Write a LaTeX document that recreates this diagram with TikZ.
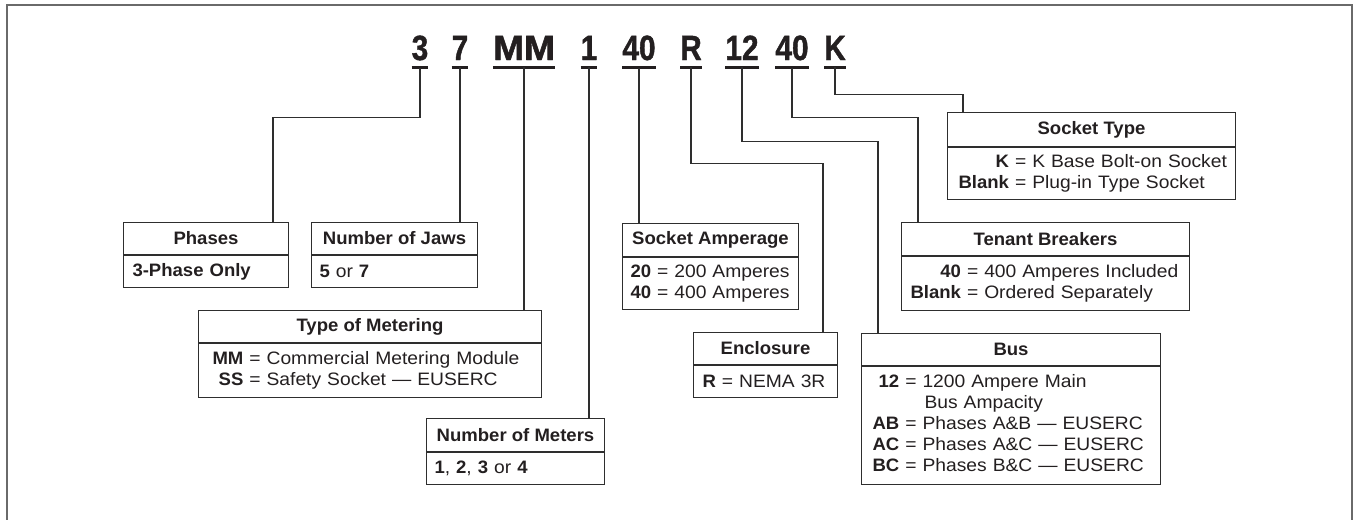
\documentclass[tikz,border=0pt]{standalone}
\usepackage{fontspec}
\setmainfont{Liberation Sans}[FakeStretch=1.07, BoldFeatures={FakeStretch=1.03}]
\newfontfamily\codefont{Liberation Sans}[FakeStretch=0.85,FakeBold=1.2]
\definecolor{ink}{HTML}{231F20}
\definecolor{boxc}{HTML}{2E2E2E}
\definecolor{framec}{HTML}{6A6A6A}
\newcommand\bodysize{\fontsize{18}{21}\selectfont}
\tikzset{
  code/.style={font=\codefont\bfseries\fontsize{35}{35}\selectfont, inner xsep=0pt, inner ysep=7pt, anchor=base, text=ink},
  uline/.style={line width=3pt, draw=ink},
  lead/.style={line width=1.1pt, draw=boxc},
  hdr/.style={draw=boxc, line width=1pt, font=\bodysize\bfseries, text=ink, inner sep=0pt, anchor=north west},
  bdy/.style={draw=boxc, line width=1pt, font=\bodysize, text=ink, inner ysep=0pt, align=left, anchor=north west},
}
\begin{document}
\begin{tikzpicture}[x=1pt,y=-1pt]
\useasboundingbox (0,0) rectangle (1356,519);
% frame
\draw[draw=framec, line width=2pt] (7,520) -- (7,5) -- (1352,5) -- (1352,520);
% code characters
\node[code] (c3)   at (420,60) {3};
\node[code] (c7)   at (460,60) {7};
\node[code] (cMM)  at (524,60) {\scalebox{1.25}[1]{MM}};
\node[code] (c1)   at (589,60) {1};
\node[code] (c40a) at (639,60) {40};
\node[code] (cR)   at (691,60) {R};
\node[code] (c12)  at (742,60) {12};
\node[code] (c40b) at (792,60) {40};
\node[code] (cK)   at (835,60) {K};
\foreach \n in {c3,c7,cMM,c1,c40a,cR,c12,c40b,cK}
  \draw[uline] (\n.south west) -- (\n.south east);
% boxes
\node[hdr, minimum width=165pt, minimum height=32pt] (phH) at (123,222) {Phases};
\node[bdy, minimum height=32pt, text width=147pt, inner xsep=9pt] (phB) at (phH.south west) {\textbf{3-Phase Only}};
\node[hdr, minimum width=166pt, minimum height=32pt] (jwH) at (311,222) {Number of Jaws};
\node[bdy, minimum height=32pt, text width=150pt, inner xsep=8pt] (jwB) at (jwH.south west) {\textbf{5} or \textbf{7}};
\node[hdr, minimum width=343pt, minimum height=32pt] (mtH) at (198,310) {Type of Metering};
\node[bdy, minimum height=54pt, text width=315pt, inner xsep=14pt] (mtB) at (mtH.south west)
  {\begin{tabular}{@{}r@{\ =\ }l@{}}\textbf{MM} & Commercial Metering Module\\ \textbf{SS} & Safety Socket — EUSERC\end{tabular}};
\node[hdr, minimum width=178pt, minimum height=33pt] (meH) at (426,418) {Number of Meters};
\node[bdy, minimum height=32pt, text width=162pt, inner xsep=8pt] (meB) at (meH.south west) {\textbf{1}, \textbf{2}, \textbf{3} or \textbf{4}};
\node[hdr, minimum width=176pt, minimum height=33pt] (saH) at (622,223) {Socket Amperage};
\node[bdy, minimum height=52pt, text width=160pt, inner xsep=8pt] (saB) at (saH.south west)
  {\begin{tabular}{@{}l@{}}\textbf{20} = 200 Amperes\\ \textbf{40} = 400 Amperes\end{tabular}};
\node[hdr, minimum width=144pt, minimum height=32pt] (enH) at (693,332) {Enclosure};
\node[bdy, minimum height=32pt, text width=126pt, inner xsep=9pt] (enB) at (enH.south west) {\textbf{R} = NEMA 3R};
\node[hdr, minimum width=299pt, minimum height=32pt] (buH) at (861,333) {Bus};
\node[bdy, minimum height=118pt, text width=277pt, inner xsep=11pt] (buB) at (buH.south west)
  {\begin{tabular}{@{}r@{\ =\ }l@{}}\textbf{12} & 1200 Ampere Main\\ \multicolumn{1}{@{}r@{\ \ \ }}{} & \hspace{2pt}Bus Ampacity\\ \textbf{AB} & Phases A\&B — EUSERC\\ \textbf{AC} & Phases A\&C — EUSERC\\ \textbf{BC} & Phases B\&C — EUSERC\end{tabular}};
\node[hdr, minimum width=288pt, minimum height=34pt] (stH) at (947,112) {Socket Type};
\node[bdy, minimum height=52pt, text width=266pt, inner xsep=11pt] (stB) at (stH.south west)
  {\begin{tabular}{@{}r@{\ =\ }l@{}}\textbf{K} & K Base Bolt-on Socket\\ \textbf{Blank} & Plug-in Type Socket\end{tabular}};
\node[hdr, minimum width=288pt, minimum height=33pt] (tbH) at (901,222) {Tenant Breakers};
\node[bdy, minimum height=54pt, text width=270pt, inner xsep=9pt] (tbB) at (tbH.south west)
  {\begin{tabular}{@{}r@{\ =\ }l@{}}\textbf{40} & 400 Amperes Included\\ \textbf{Blank} & Ordered Separately\end{tabular}};
% leaders
\draw[lead] (c3.south) -- ++(0,50) -| ([xshift=-16pt]phH.north east);
\draw[lead] (c7.south) -- (c7.south |- jwH.north);
\draw[lead] (cMM.south) -- (cMM.south |- mtH.north);
\draw[lead] (c1.south) -- (c1.south |- meH.north);
\draw[lead] (c40a.south) -- (c40a.south |- saH.north);
\draw[lead] (cR.south) -- ++(0,96) -| ([xshift=-15pt]enH.north east);
\draw[lead] (c12.south) -- ++(0,74) -| ([xshift=17pt]buH.north west);
\draw[lead] (c40b.south) -- ++(0,50) -| ([xshift=17pt]tbH.north west);
\draw[lead] (cK.south) -- ++(0,27) -| ([xshift=16pt]stH.north west);
\end{tikzpicture}
\end{document}
